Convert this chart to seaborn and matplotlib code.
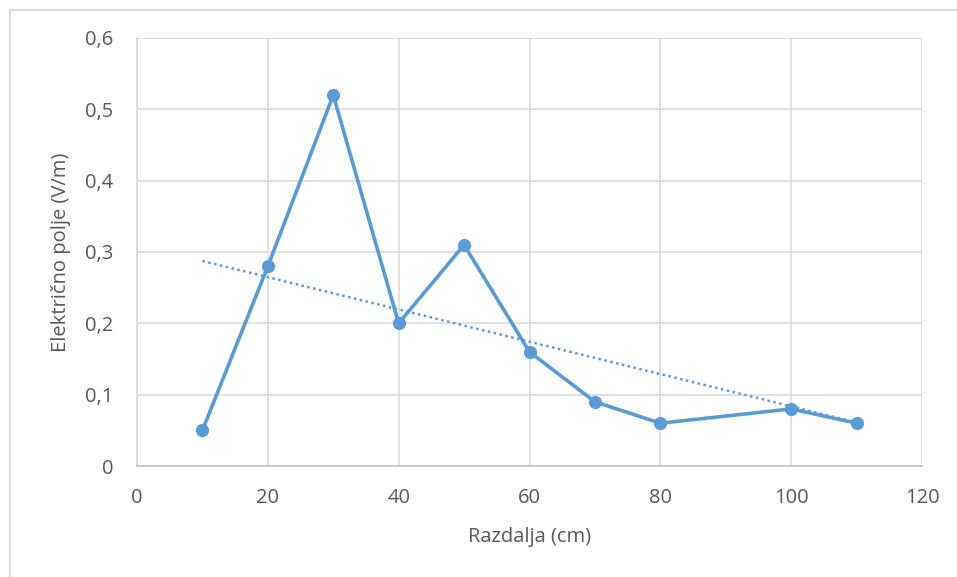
import numpy as np
import pandas as pd
import matplotlib
matplotlib.use("Agg")
import matplotlib.pyplot as plt
from matplotlib.lines import Line2D
import seaborn as sns

# Data
distance_cm = [10, 20, 30, 40, 50, 60, 70, 80, 100, 110]
field_vm = [0.05, 0.28, 0.52, 0.20, 0.31, 0.16, 0.09, 0.06, 0.08, 0.06]
x_ticks = [0, 20, 40, 60, 80, 100, 120]
y_ticks = [0, 0.1, 0.2, 0.3, 0.4, 0.5, 0.6]
y_tick_labels = ["0", "0,1", "0,2", "0,3", "0,4", "0,5", "0,6"]
x_title = "Razdalja (cm)"
y_title = "Električno polje (V/m)"

df = pd.DataFrame({"x": distance_cm, "y": field_vm})

sns.set_theme(style="white")
plt.rcParams["font.family"] = ["Open Sans", "DejaVu Sans"]

W, H = 957, 577
fig = plt.figure(figsize=(W / 100, H / 100), dpi=100)
ax = fig.add_axes([137 / W, 1 - 466 / H, (922 - 137) / W, (466 - 38) / H])

blue = "#5B9BD5"
grid_c = "#d9d9d9"
text_c = "#595959"

sns.regplot(data=df, x="x", y="y", ax=ax, scatter=False, ci=None, truncate=True,
            line_kws=dict(color=blue, lw=1.8, linestyle=(0, (1, 1.4)), zorder=2))
sns.lineplot(data=df, x="x", y="y", ax=ax, color=blue, lw=2.6, marker="o",
             markersize=9.5, markeredgewidth=0, zorder=3)

ax.set_xlim(0, 120)
ax.set_ylim(0, 0.6)
ax.set_xticks(x_ticks)
ax.set_xticklabels([str(t) for t in x_ticks])
ax.set_yticks(y_ticks)
ax.set_yticklabels(y_tick_labels)
ax.grid(True, color=grid_c, lw=1.1)
ax.set_axisbelow(True)
for s in ["top", "right"]:
    ax.spines[s].set_visible(False)
ax.spines["left"].set_color(grid_c)
ax.spines["left"].set_linewidth(1.1)
ax.spines["bottom"].set_color("#bfbfbf")
ax.spines["bottom"].set_linewidth(1.1)
ax.tick_params(axis="both", length=0, labelsize=14.5, colors=text_c)
ax.tick_params(axis="y", pad=17)
ax.tick_params(axis="x", pad=16)

ax.set_xlabel(x_title, fontsize=14.5, color=text_c)
ax.set_ylabel(y_title, fontsize=14.5, color=text_c)
ax.xaxis.set_label_coords(0.5, -(537 - 466) / (466 - 38))
ax.yaxis.set_label_coords(-(137 - 61) / (922 - 137), 0.5)
ax.xaxis.label.set_va("center")
ax.yaxis.label.set_va("center")

# chart-area border
fig.add_artist(Line2D([10 / W, 10 / W], [0, 1 - 10 / H], color=grid_c, lw=1.3))
fig.add_artist(Line2D([10 / W, 1], [1 - 10 / H, 1 - 10 / H], color=grid_c, lw=1.3))

fig.savefig("out.png", dpi=100, facecolor="white")
